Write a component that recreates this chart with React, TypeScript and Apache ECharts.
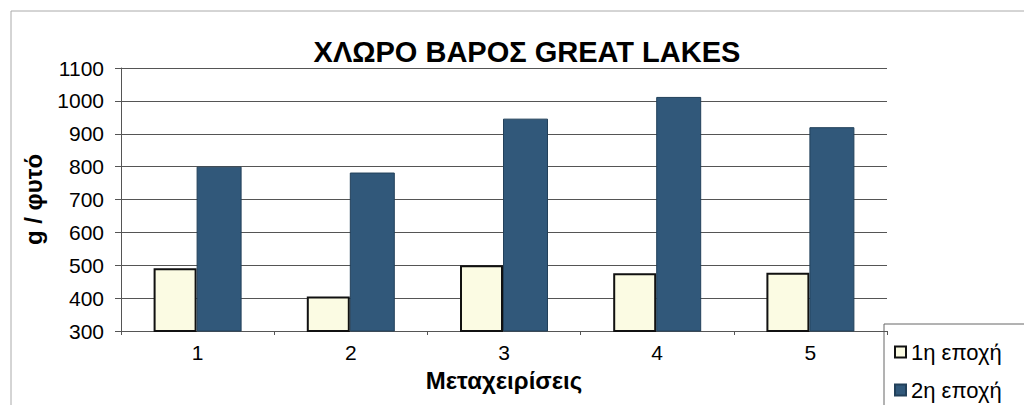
import React, { useEffect, useRef } from "react";
import * as echarts from "echarts";

const categories = ["1", "2", "3", "4", "5"];
const season1 = [491, 405, 500, 476, 477];
const season2 = [800, 782, 946, 1012, 920];
const seriesNames = ["1η εποχή", "2η εποχή"];
const yTicks = { min: 300, max: 1100, interval: 100 };

export default function App() {
  const ref = useRef<HTMLDivElement>(null);
  useEffect(() => {
    if (!ref.current) return;
    const chart = echarts.init(ref.current, null, { renderer: "svg" });
    const font = "Liberation Sans, Arial, sans-serif";
    const legendBase = {
      orient: "vertical",
      left: 889,
      itemWidth: 11,
      itemHeight: 11,
      itemGap: 6,
      icon: "rect",
      textStyle: { fontFamily: font, fontSize: 22, color: "#000" },
    };
    chart.setOption({
      animation: false,
      backgroundColor: "#ffffff",
      title: {
        text: "ΧΛΩΡΟ ΒΑΡΟΣ GREAT LAKES",
        left: 522,
        textAlign: "center",
        top: 32,
        textStyle: { fontFamily: font, fontSize: 29, fontWeight: "bold", color: "#000" },
      },
      grid: { left: 121, right: 137, top: 68, bottom: 74 },
      xAxis: {
        type: "category",
        data: categories,
        name: "Μεταχειρίσεις",
        nameLocation: "middle",
        nameGap: 37,
        nameTextStyle: { fontFamily: font, fontSize: 24, fontWeight: "bold", color: "#000" },
        axisLine: { lineStyle: { color: "#555", width: 1 } },
        axisTick: { show: true, length: 4, lineStyle: { color: "#555" } },
        axisLabel: { fontFamily: font, fontSize: 21, color: "#000", margin: 11 },
      },
      yAxis: {
        type: "value",
        min: yTicks.min,
        max: yTicks.max,
        interval: yTicks.interval,
        name: "g / φυτό",
        nameLocation: "middle",
        nameGap: 76,
        nameRotate: 90,
        nameTextStyle: { fontFamily: font, fontSize: 24, fontWeight: "bold", color: "#000" },
        axisLine: { show: true, lineStyle: { color: "#555", width: 1 } },
        axisTick: { show: true, length: 6, lineStyle: { color: "#555" } },
        axisLabel: {
          fontFamily: font,
          fontSize: 21,
          color: "#000",
          margin: 17,
          formatter: (v: number) => String(v),
        },
        splitLine: { lineStyle: { color: "#555", width: 1 } },
      },
      legend: [
        { ...legendBase, top: 336, data: [seriesNames[0]] },
        { ...legendBase, top: 374, data: [seriesNames[1]] },
      ],
      graphic: [
        {
          type: "rect",
          shape: { x: 11, y: 11, width: 1030, height: 420 },
          style: { fill: "none", stroke: "#aaa", lineWidth: 1 },
          silent: true,
        },
        {
          type: "rect",
          shape: { x: 884, y: 324, width: 150, height: 100 },
          style: { fill: "#fff", stroke: "#666", lineWidth: 1 },
          silent: true,
          z: -1,
        },
      ],
      series: [
        {
          name: seriesNames[0],
          type: "bar",
          data: season1,
          barWidth: 43,
          barGap: "0%",
          itemStyle: { color: "#FBFBE3", borderColor: "#111", borderWidth: 2 },
        },
        {
          name: seriesNames[1],
          type: "bar",
          data: season2,
          barWidth: 45,
          barGap: "0%",
          itemStyle: { color: "#31587A", borderColor: "#22405a", borderWidth: 1 },
        },
      ],
    });
    return () => chart.dispose();
  }, []);
  return (
    <div
      ref={ref}
      style={{ position: "fixed", left: 0, top: 0, width: 1024, height: 405 }}
    />
  );
}
